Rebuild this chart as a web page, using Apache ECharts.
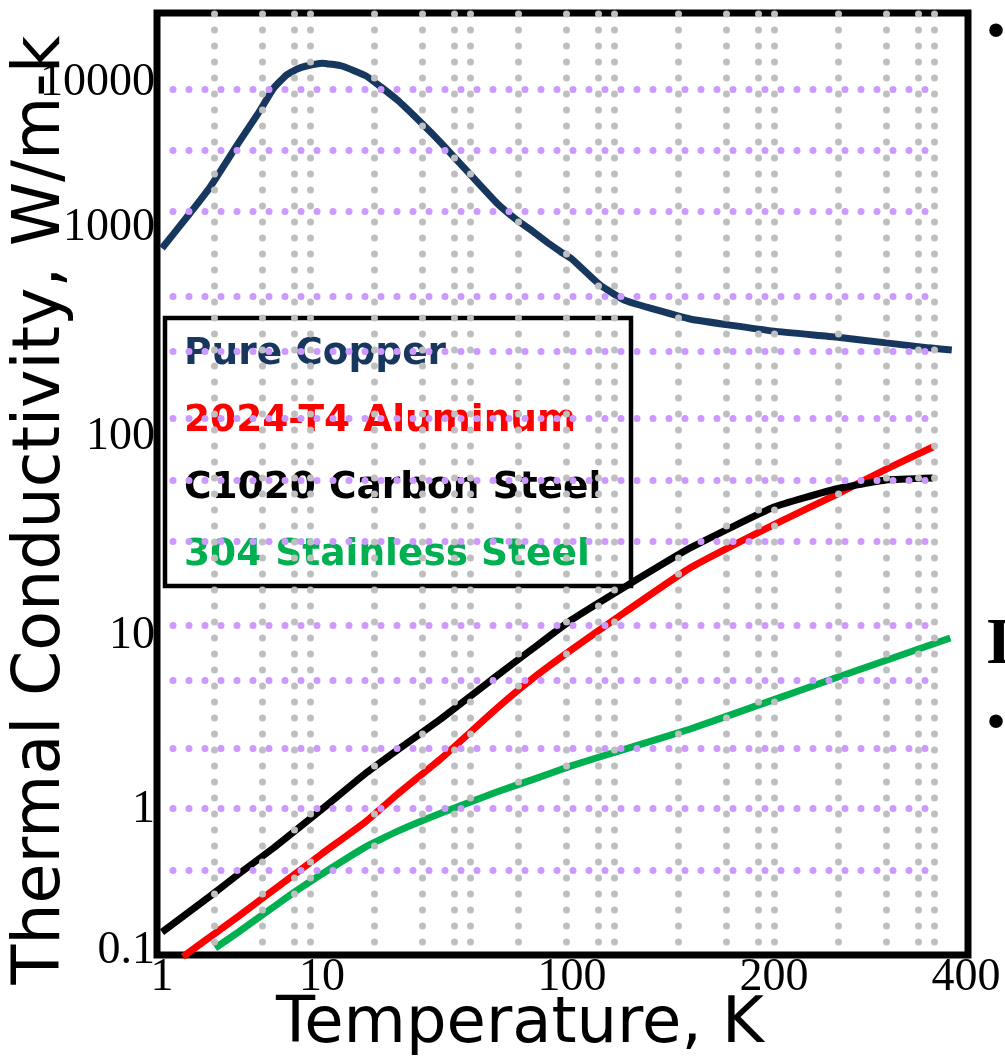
<!DOCTYPE html>
<html>
<head>
<meta charset="utf-8">
<script src="https://cdn.jsdelivr.net/npm/echarts@6/dist/echarts.min.js"></script>
<style>
  html, body { margin: 0; padding: 0; background: #fff; }
  #chart { width: 1005px; height: 1058px; }
</style>
</head>
<body>
<div id="chart"></div>
<script>
// tick labels of the two (hand placed, uneven) log axes
const xTicks = [1, 10, 100, 200, 400]
const yTicks = [0.1, 1, 10, 100, 1000, 10000]

// curves: temperature (K) and conductivity (W/m-K)
const copperT = [1, 1.5, 2, 3, 4, 5, 6, 7, 8, 10, 12, 15, 20, 25, 30, 40, 50, 60, 70, 80, 90, 100, 110, 120, 150, 200, 250, 300, 350, 380]
const copperK = [800, 1270, 1920, 3850, 6200, 9250, 11350, 12500, 13100, 13700, 13100, 11200, 7650, 5300, 3850, 2250, 1490, 1140, 960, 850, 770, 710, 535, 450, 367, 321, 301, 282, 267, 261]

const aluT = [1.35, 2, 3, 5, 10, 15, 20, 30, 50, 70, 100, 120, 150, 200, 250, 300, 355]
const aluK = [0.091, 0.126, 0.176, 0.272, 0.49, 0.83, 1.23, 1.98, 3.84, 5.74, 8.38, 13.2, 22.0, 36.3, 51.2, 69.0, 89.1]

const carbonT = [1, 2, 3, 5, 10, 15, 20, 30, 50, 70, 100, 120, 150, 200, 250, 300, 355]
const carbonK = [0.136, 0.245, 0.35, 0.54, 1.01, 1.63, 2.21, 3.35, 5.9, 8.5, 12.1, 17.7, 27.7, 44.5, 54.8, 60.8, 62.2]

const stainT = [2.15, 3, 5, 7, 10, 15, 20, 30, 50, 70, 100, 120, 150, 200, 250, 300, 378]
const stainK = [0.105, 0.136, 0.206, 0.27, 0.352, 0.55, 0.705, 0.951, 1.27, 1.5, 1.8, 2.24, 2.92, 4.31, 5.75, 7.25, 9.74]

// layout: where each tick label sits along its axis (axis units = px from grid origin)
const xTickPos = [5, 165, 415, 617, 809]
const yTickPos = [4, 145, 319, 518, 727, 872]
const X_MAX = 811
const Y_MAX = 942

// dotted slide grid (decoration, axis units)
const grayCols = [57, 105, 137, 153, 217, 265, 297, 313, 361, 409, 441, 457, 521, 569, 601, 617, 681, 729, 761, 777]
const purpleRows = [866, 805, 744, 659, 604, 537, 475, 414, 330, 275, 207, 147, 85]

// piecewise log scale through the tick anchors
function toPos(v, ticks, pos) {
  const l = Math.log10(v)
  let i = 0
  while (i < ticks.length - 2 && l > Math.log10(ticks[i + 1])) i++
  const l0 = Math.log10(ticks[i]), l1 = Math.log10(ticks[i + 1])
  return pos[i] + (l - l0) / (l1 - l0) * (pos[i + 1] - pos[i])
}

function curve(ts, ks) {
  return ts.map((t, i) => [toPos(t, xTicks, xTickPos), toPos(ks[i], yTicks, yTickPos)])
}

const myChart = echarts.init(document.getElementById('chart'))

const lineSeries = (name, color, ts, ks) => ({
  name: name,
  type: 'line',
  data: curve(ts, ks),
  showSymbol: false,
  smooth: 0.12,
  clip: false,
  lineStyle: { color: color, width: 7 },
  itemStyle: { color: color }
})

const option = {
  animation: false,
  backgroundColor: '#fff',
  grid: {
    left: 157,
    right: 1005 - 968,
    top: 13,
    bottom: 1058 - 955,
    show: true,
    borderColor: '#000',
    borderWidth: 7,
    backgroundColor: 'transparent'
  },
  legend: {
    orient: 'vertical',
    left: 179,
    top: 334,
    padding: 0,
    itemWidth: 0,
    itemHeight: 40,
    itemGap: 27,
    icon: 'rect',
    itemStyle: { opacity: 0, borderWidth: 0 },
    lineStyle: { opacity: 0, width: 0 },
    selectedMode: false,
    textStyle: {
      fontFamily: 'DejaVu Sans',
      fontWeight: 'bold',
      fontSize: 37.5
    },
    data: [
      { name: 'Pure Copper', textStyle: { color: '#17375E' } },
      { name: '2024-T4 Aluminum', textStyle: { color: '#FF0000' } },
      { name: 'C1020 Carbon Steel', textStyle: { color: '#000000' } },
      { name: '304 Stainless Steel', textStyle: { color: '#00B050' } }
    ]
  },
  xAxis: {
    type: 'value',
    min: 0,
    max: X_MAX,
    axisLine: { show: false },
    axisTick: { show: false },
    splitLine: { show: false },
    axisLabel: {
      customValues: xTickPos,
      formatter: v => {
        const i = xTickPos.indexOf(v)
        return i >= 0 ? String(xTicks[i]) : ''
      },
      margin: 0,
      color: '#000',
      fontFamily: 'Liberation Serif',
      fontSize: 46
    }
  },
  yAxis: {
    type: 'value',
    min: 0,
    max: Y_MAX,
    axisLine: { show: false },
    axisTick: { show: false },
    splitLine: { show: false },
    axisLabel: {
      customValues: yTickPos,
      formatter: v => {
        const i = yTickPos.indexOf(v)
        return i >= 0 ? String(yTicks[i]) : ''
      },
      margin: 2,
      color: '#000',
      fontFamily: 'Liberation Serif',
      fontSize: 46
    }
  },
  graphic: [
    {
      type: 'rect',
      z: 3,
      shape: { x: 165, y: 318, width: 466, height: 268 },
      style: { fill: 'transparent', stroke: '#000', lineWidth: 4.5 }
    },
    {
      type: 'text',
      x: 520, y: 1025,
      style: {
        text: 'Temperature, K',
        fontFamily: 'DejaVu Sans', fontSize: 64, fill: '#000',
        textAlign: 'center', textVerticalAlign: 'middle'
      }
    },
    {
      type: 'text',
      x: 42, y: 510,
      rotation: Math.PI / 2,
      style: {
        text: 'Thermal Conductivity, W/m-k',
        fontFamily: 'DejaVu Sans', fontSize: 65, fill: '#000',
        textAlign: 'center', textVerticalAlign: 'middle'
      }
    },
    {
      type: 'text', x: 996, y: 33,
      style: { text: '•', fontFamily: 'Liberation Sans', fontSize: 50, fill: '#000', textAlign: 'center', textVerticalAlign: 'middle' }
    },
    {
      type: 'text', x: 996, y: 724,
      style: { text: '•', fontFamily: 'Liberation Sans', fontSize: 50, fill: '#000', textAlign: 'center', textVerticalAlign: 'middle' }
    },
    {
      type: 'text', x: 986, y: 646,
      style: { text: 'I', fontFamily: 'Liberation Serif', fontWeight: 'bold', fontSize: 66, fill: '#000', textAlign: 'left', textVerticalAlign: 'middle' }
    }
  ],
  series: [
    lineSeries('Pure Copper', '#17375E', copperT, copperK),
    lineSeries('2024-T4 Aluminum', '#FF0000', aluT, aluK),
    lineSeries('C1020 Carbon Steel', '#000000', carbonT, carbonK),
    lineSeries('304 Stainless Steel', '#00B050', stainT, stainK),
    {
      name: 'rows',
      type: 'line',
      data: [],
      markLine: {
        silent: true,
        z: 6,
        animation: false,
        symbol: ['none', 'none'],
        label: { show: false },
        lineStyle: { color: '#CC99FF', width: 7, type: [0.01, 15.99], cap: 'round' },
        data: purpleRows.map(p => [{ coord: [16, p] }, { coord: [768, p] }])
      }
    },
    {
      name: 'cols',
      type: 'line',
      data: [],
      markLine: {
        silent: true,
        z: 7,
        animation: false,
        symbol: ['none', 'none'],
        label: { show: false },
        lineStyle: { color: '#BFBFBF', width: 7, type: [0.01, 15.99], cap: 'round' },
        data: grayCols.map(p => [{ coord: [p, 941] }, { coord: [p, 13] }])
      }
    }
  ]
}

myChart.setOption(option)
window.addEventListener('resize', () => myChart.resize())
</script>
</body>
</html>
